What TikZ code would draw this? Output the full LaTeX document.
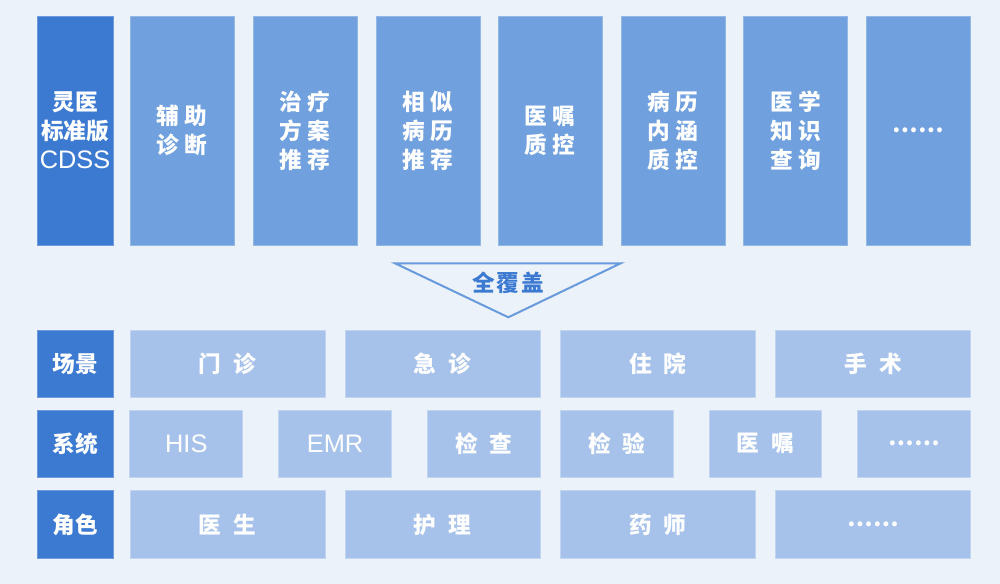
\documentclass[tikz,border=0pt]{standalone}
\usepackage{fontspec}
\usepackage{xcolor}
\usepackage{tikz}

\newfontfamily\cjk{Noto Sans CJK SC}
\newfontfamily\lat{Liberation Sans}
\definecolor{pagebg}{HTML}{ECF2FA}
\definecolor{darkblue}{HTML}{3C7AD2}
\definecolor{midblue}{HTML}{70A0DE}
\definecolor{lightblue}{HTML}{A7C2EA}
\newcommand{\latin}{\lat\mdseries\fontsize{19}{22}\selectfont}

\begin{document}
\begin{tikzpicture}[x=0.75pt,y=-0.75pt,
  every node/.style={font=\cjk\bfseries\fontsize{17}{21.75}\selectfont, text=white, inner sep=0pt, align=center},
  head/.style={fill=darkblue, draw=darkblue!75!white, line width=0.75pt},
  func/.style={fill=midblue, draw=midblue!75!white, line width=0.75pt, minimum width=78pt, minimum height=171.75pt},
  cell/.style={fill=lightblue, draw=lightblue!70!white, line width=0.75pt, minimum height=50.25pt},
  wide/.style={cell, minimum width=146.25pt},
  narrow/.style={cell, minimum width=84.5pt}]
\fill[pagebg] (0,0) rectangle (1000,584);

% top row
\node[head, minimum width=57pt, minimum height=171.75pt] (cdss) at (75,130.6) {灵医\\标准版\\{\latin CDSS}};
\node[func] (diag) at (182,130.6) {辅\hspace{4pt}助\\诊\hspace{4pt}断};
\node[func] (plan) at (305,130.6) {治\hspace{4pt}疗\\方\hspace{4pt}案\\推\hspace{4pt}荐};
\node[func] (similar) at (428,130.6) {相\hspace{4pt}似\\病\hspace{4pt}历\\推\hspace{4pt}荐};
\node[func] (order) at (550,130.6) {医\hspace{4pt}嘱\\质\hspace{4pt}控};
\node[func] (record) at (673,130.6) {病\hspace{4pt}历\\内\hspace{4pt}涵\\质\hspace{4pt}控};
\node[func] (know) at (795.8,130.6) {医\hspace{4pt}学\\知\hspace{4pt}识\\查\hspace{4pt}询};
\node[func] (morefunc) at (918.3,130.6) {……};

% coverage arrow
\draw[draw=midblue!85!darkblue, line width=1.5pt, line join=miter] (395,263.3) -- (620.7,263.3) -- (508.3,317.3) -- cycle;
\node[text=darkblue] (cover) at (508.3,283) {全\hspace{1.5pt}覆\hspace{1.5pt}盖};

% scenes
\node[head, minimum width=57pt, minimum height=50.25pt] (scene) at (75,363.7) {场景};
\node[wide] (clinic) at (227.5,363.7) {门\hspace{9pt}诊};
\node[wide] (emerg) at (442.5,363.7) {急\hspace{9pt}诊};
\node[wide] (ward) at (657.8,363.7) {住\hspace{9pt}院};
\node[wide] (surgery) at (873.3,363.7) {手\hspace{9pt}术};

% systems
\node[head, minimum width=57pt, minimum height=50.25pt] (system) at (75,443.8) {系统};
\node[narrow] (his) at (186.3,443.8) {\latin HIS};
\node[narrow] (emr) at (335,443.8) {\latin EMR};
\node[narrow] (exam) at (483.7,443.8) {检\hspace{9pt}查};
\node[narrow] (lab) at (616.7,443.8) {检\hspace{9pt}验};
\node[narrow] (orders) at (765.5,443.8) {医\hspace{9pt}嘱};
\node[narrow] (moresys) at (914.2,443.8) {……};

% roles
\node[head, minimum width=57pt, minimum height=50.25pt] (role) at (75,524.5) {角色};
\node[wide] (doctor) at (227.5,524.5) {医\hspace{9pt}生};
\node[wide] (nurse) at (442.5,524.5) {护\hspace{9pt}理};
\node[wide] (pharm) at (657.8,524.5) {药\hspace{9pt}师};
\node[wide] (morerole) at (873.3,524.5) {……};
\end{tikzpicture}
\end{document}
